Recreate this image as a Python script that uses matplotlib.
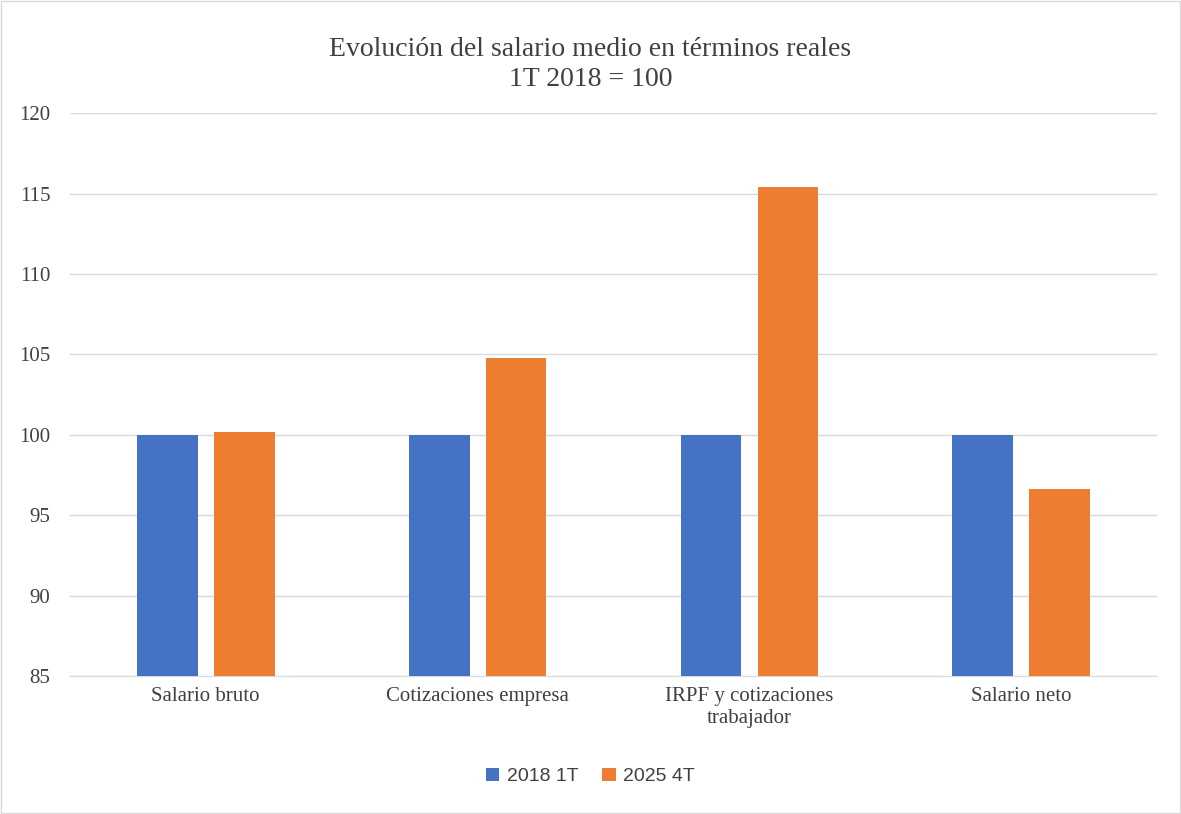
import matplotlib
matplotlib.use("Agg")
import matplotlib.pyplot as plt
import numpy as np
from matplotlib.patches import Rectangle

categories = ["Salario bruto", "Cotizaciones empresa", "IRPF y cotizaciones\ntrabajador", "Salario neto"]
s2018 = [100, 100, 100, 100]
s2025 = [100.2, 104.8, 115.4, 96.6]
yticks = [85, 90, 95, 100, 105, 110, 115, 120]

plt.rcParams['font.family'] = ['Liberation Serif', 'DejaVu Serif']
fig = plt.figure(figsize=(11.81, 8.14), dpi=100)
ax = fig.add_axes([0.059, 0.1695, 0.921, 0.6915])
x = np.arange(len(categories))
w = 0.224
ax.bar(x - 0.1415, np.array(s2018) - 85, w, bottom=85, color='#4472C4', label='2018 1T', zorder=3)
ax.bar(x + 0.1415, np.array(s2025) - 85, w, bottom=85, color='#ED7D31', label='2025 4T', zorder=3)
ax.set_xlim(-0.5, 3.5)
ax.set_ylim(85, 120)
ax.set_yticks(yticks)
ax.set_yticklabels([str(t) for t in yticks], fontsize=15, color='#404040')
ax.set_xticks(x)
ax.set_xticklabels(categories, fontsize=15, color='#404040')
ax.tick_params(length=0, pad=8)
ax.tick_params(axis='y', pad=14)
ax.grid(axis='y', color='#D9D9D9', lw=1, zorder=0)
for s in ['top', 'right', 'left']:
    ax.spines[s].set_visible(False)
ax.spines['bottom'].set_color('#D9D9D9')
fig.text(0.5, 0.955, "Evolución del salario medio en términos reales\n1T 2018 = 100",
         ha='center', va='top', fontsize=20, color='#404040', linespacing=1.3)
fig.legend(loc='center', bbox_to_anchor=(0.5, 0.046), ncol=2, frameon=False,
           prop={'family': 'Liberation Sans', 'size': 14}, labelcolor='#404040',
           handlelength=0.7, handleheight=0.7, columnspacing=1.2, handletextpad=0.4)
fig.patches.append(Rectangle((0.001, 0.001), 0.998, 0.998, transform=fig.transFigure,
                             fill=False, ec='#D9D9D9', lw=1))
fig.savefig("out.png", dpi=100)
